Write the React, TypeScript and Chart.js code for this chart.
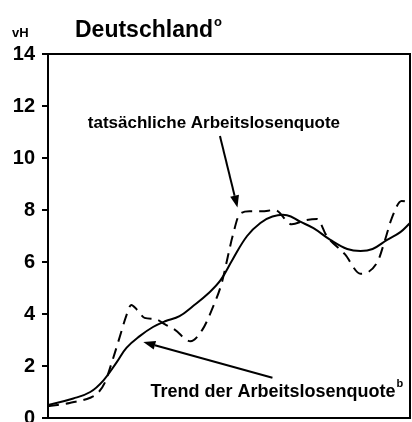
import React, { useEffect, useRef } from "react";
import { Chart, registerables } from "chart.js";

Chart.register(...registerables);

// Zeitachse (Jahre, ohne Beschriftung im Original)
const trendYears = [1970.0, 1972.1, 1973.5, 1974.6, 1975.7, 1976.5, 1977.6, 1978.7, 1979.7, 1980.9, 1982.0, 1983.3, 1984.3, 1985.3, 1986.5, 1987.6, 1988.6, 1989.8, 1990.9, 1992.0, 1993.4, 1994.8, 1995.9, 1996.9, 1998.1, 1999.2, 2000.0];
const trendValues = [0.5, 0.75, 1.0, 1.45, 2.15, 2.7, 3.15, 3.5, 3.72, 3.92, 4.3, 4.8, 5.3, 6.1, 7.0, 7.5, 7.75, 7.8, 7.55, 7.3, 6.85, 6.5, 6.42, 6.5, 6.85, 7.15, 7.5];

const actualYears = [1970.0, 1971.8, 1973.5, 1974.1, 1974.7, 1975.4, 1976.0, 1976.5, 1976.9, 1977.4, 1978.0, 1978.9, 1979.7, 1980.5, 1981.8, 1982.8, 1983.7, 1984.4, 1984.9, 1985.3, 1985.9, 1986.7, 1987.7, 1988.8, 1990.2, 1991.3, 1992.3, 1993.1, 1994.6, 1995.9, 1997.3, 1997.9, 1998.5, 1999.3, 2000.0];
const actualValues = [0.45, 0.58, 0.78, 0.95, 1.35, 2.3, 3.2, 3.95, 4.35, 4.15, 3.85, 3.8, 3.6, 3.4, 2.95, 3.4, 4.3, 5.2, 6.2, 7.0, 7.85, 7.95, 7.95, 8.0, 7.45, 7.6, 7.65, 7.0, 6.3, 5.55, 6.0, 6.8, 7.7, 8.35, 8.3];

const yTicks = [0, 2, 4, 6, 8, 10, 12, 14];

const titleText = "Deutschland";
const unitText = "vH";
const actualLabel = "tatsächliche Arbeitslosenquote";
const trendLabel = "Trend der Arbeitslosenquote";

// Annotation anchors in data coordinates
const actualArrow = { fromX: 1984.25, fromY: 10.85, toX: 1985.7, toY: 8.1 };
const actualText = { x: 1973.3, y: 11.15 };
const trendArrow = { fromX: 1988.6, fromY: 1.55, toX: 1977.9, toY: 2.92 };
const trendText = { x: 1978.5, y: 0.8 };

const FONT = "'Liberation Sans', Arial, sans-serif";

function drawArrow(ctx: CanvasRenderingContext2D, x1: number, y1: number, x2: number, y2: number) {
  const ang = Math.atan2(y2 - y1, x2 - x1);
  const headLen = 12;
  const headW = 4.5;
  const bx = x2 - Math.cos(ang) * headLen;
  const by = y2 - Math.sin(ang) * headLen;
  ctx.beginPath();
  ctx.moveTo(x1, y1);
  ctx.lineTo(bx, by);
  ctx.lineWidth = 2;
  ctx.strokeStyle = "#000";
  ctx.stroke();
  ctx.beginPath();
  ctx.moveTo(x2, y2);
  ctx.lineTo(bx + Math.sin(ang) * headW, by - Math.cos(ang) * headW);
  ctx.lineTo(bx - Math.sin(ang) * headW, by + Math.cos(ang) * headW);
  ctx.closePath();
  ctx.fillStyle = "#000";
  ctx.fill();
}

const annotationPlugin = {
  id: "annotations",
  afterDraw(chart: any) {
    const ctx: CanvasRenderingContext2D = chart.ctx;
    const { left, top, right, bottom } = chart.chartArea;
    const xs = chart.scales.x;
    const ys = chart.scales.y;
    ctx.save();
    // frame
    ctx.strokeStyle = "#000";
    ctx.lineWidth = 2;
    ctx.strokeRect(left, top, right - left, bottom - top);

    ctx.fillStyle = "#000";
    ctx.textBaseline = "alphabetic";
    ctx.textAlign = "left";
    // unit
    ctx.font = `bold 13px ${FONT}`;
    ctx.fillText(unitText, 12, 37);
    // title
    ctx.font = `bold 23px ${FONT}`;
    ctx.fillText(titleText, 75, 37);
    const tw = ctx.measureText(titleText).width;
    ctx.font = `bold 13px ${FONT}`;
    ctx.fillText("o", 75 + tw + 1, 26);

    // actual label + arrow
    ctx.font = `bold 17px ${FONT}`;
    ctx.fillText(actualLabel, xs.getPixelForValue(actualText.x), ys.getPixelForValue(actualText.y));
    drawArrow(ctx, xs.getPixelForValue(actualArrow.fromX), ys.getPixelForValue(actualArrow.fromY), xs.getPixelForValue(actualArrow.toX), ys.getPixelForValue(actualArrow.toY));

    // trend label + arrow
    ctx.font = `bold 18px ${FONT}`;
    const tx = xs.getPixelForValue(trendText.x);
    const ty = ys.getPixelForValue(trendText.y);
    ctx.fillText(trendLabel, tx, ty);
    const w2 = ctx.measureText(trendLabel).width;
    ctx.font = `bold 11px ${FONT}`;
    ctx.fillText("b", tx + w2 + 1, ty - 10);
    drawArrow(ctx, xs.getPixelForValue(trendArrow.fromX), ys.getPixelForValue(trendArrow.fromY), xs.getPixelForValue(trendArrow.toX), ys.getPixelForValue(trendArrow.toY));
    ctx.restore();
  },
};

export default function App() {
  const ref = useRef<HTMLCanvasElement | null>(null);
  useEffect(() => {
    if (!ref.current) return;
    const chart = new Chart(ref.current, {
      type: "line",
      data: {
        datasets: [
          {
            label: actualLabel,
            data: actualYears.map((x, i) => ({ x, y: actualValues[i] })),
            borderColor: "#000",
            borderWidth: 2,
            borderDash: [11, 7],
            pointRadius: 0,
            cubicInterpolationMode: "monotone",
            fill: false,
          },
          {
            label: trendLabel,
            data: trendYears.map((x, i) => ({ x, y: trendValues[i] })),
            borderColor: "#000",
            borderWidth: 2,
            pointRadius: 0,
            tension: 0.4,
            fill: false,
          },
        ],
      },
      options: {
        animation: false,
        responsive: false,
        maintainAspectRatio: false,
        events: [],
        layout: { padding: { top: 54, left: 0, right: 2, bottom: 4 } },
        plugins: {
          legend: { display: false },
          title: { display: false },
          tooltip: { enabled: false },
        },
        scales: {
          x: {
            type: "linear",
            min: 1970,
            max: 2000,
            display: false,
          },
          y: {
            type: "linear",
            min: 0,
            max: 14,
            afterBuildTicks: (scale: any) => {
              scale.ticks = yTicks.map((v) => ({ value: v }));
            },
            afterFit: (scale: any) => {
              scale.width = 48;
              scale.paddingTop = 0;
              scale.paddingBottom = 0;
            },
            ticks: {
              color: "#000",
              font: { family: FONT, size: 20, weight: "bold" },
              padding: 7,
            },
            grid: {
              drawOnChartArea: false,
              drawTicks: true,
              tickLength: 6,
              color: "#000",
              lineWidth: 2,
            },
            border: { display: true, color: "#000", width: 2 },
          },
        },
      },
      plugins: [annotationPlugin],
    } as any);
    return () => chart.destroy();
  }, []);
  return (
    <div style={{ position: "fixed", left: 0, top: 0, width: 412, height: 422, background: "#fff" }}>
      <canvas ref={ref} width={412} height={422} style={{ display: "block" }} />
    </div>
  );
}
